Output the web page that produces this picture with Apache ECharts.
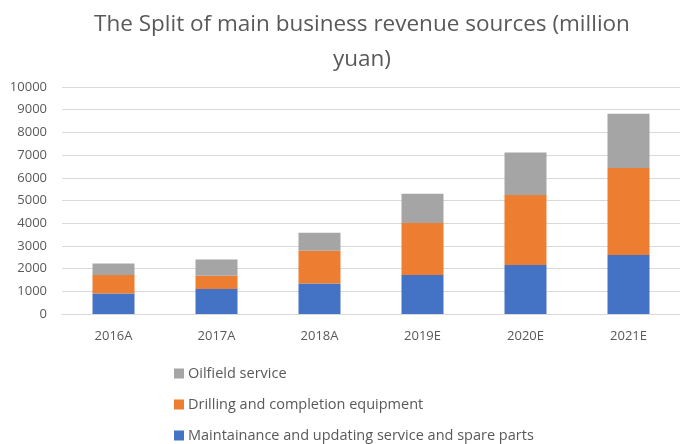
<!DOCTYPE html>
<html>
<head>
<meta charset="utf-8">
<script src="https://cdn.jsdelivr.net/npm/echarts@6/dist/echarts.min.js"></script>
<style>
  html, body { margin: 0; padding: 0; background: #fff; }
  #main { width: 680px; height: 444px; }
</style>
</head>
<body>
<div id="main"></div>
<script>
var years = ["2016A", "2017A", "2018A", "2019E", "2020E", "2021E"];
var maintenance = [900, 1100, 1340, 1720, 2160, 2600];
var drilling = [820, 580, 1450, 2290, 3080, 3830];
var oilfield = [500, 720, 790, 1290, 1880, 2390];
var yTicks = [0, 10000, 1000];
var legendNames = ["Oilfield service", "Drilling and completion equipment", "Maintainance and updating service and spare parts"];

var chart = echarts.init(document.getElementById("main"));
var font = "Open Sans";

// one legend per row so they stack like the original
var legends = legendNames.map(function (name, i) {
  return {
    left: 169,
    top: 361 + i * 31,
    itemWidth: 10,
    itemHeight: 10,
    itemGap: 4,
    icon: "rect",
    data: [name],
    textStyle: { color: "#595959", fontSize: 14.5, fontFamily: font, padding: [0, 0, 0, -1] }
  };
});

var option = {
  animation: false,
  title: {
    text: "The Split of main business revenue sources (million\nyuan)",
    left: 357,
    textAlign: "center",
    top: 2,
    textStyle: { color: "#595959", fontSize: 22.5, fontWeight: "normal", fontFamily: font, lineHeight: 35 }
  },
  legend: legends,
  grid: { left: 62, top: 87, width: 628, height: 227, containLabel: false },
  xAxis: {
    type: "category",
    data: years,
    axisLine: { lineStyle: { color: "#d9d9d9" } },
    axisTick: { show: false },
    axisLabel: { color: "#595959", fontSize: 13, fontFamily: font, margin: 16 }
  },
  yAxis: {
    type: "value",
    min: yTicks[0],
    max: yTicks[1],
    interval: yTicks[2],
    axisLine: { show: false },
    axisTick: { show: false },
    splitLine: { lineStyle: { color: "#d9d9d9" } },
    axisLabel: { color: "#595959", fontSize: 13, fontFamily: font, margin: 15, formatter: function (v) { return String(v); } }
  },
  series: [
    { name: legendNames[2], type: "bar", stack: "a", data: maintenance, barWidth: 42, itemStyle: { color: "#4472c4" } },
    { name: legendNames[1], type: "bar", stack: "a", data: drilling, barWidth: 42, itemStyle: { color: "#ed7d31" } },
    { name: legendNames[0], type: "bar", stack: "a", data: oilfield, barWidth: 42, itemStyle: { color: "#a5a5a5" } }
  ]
};
chart.setOption(option);
</script>
</body>
</html>
